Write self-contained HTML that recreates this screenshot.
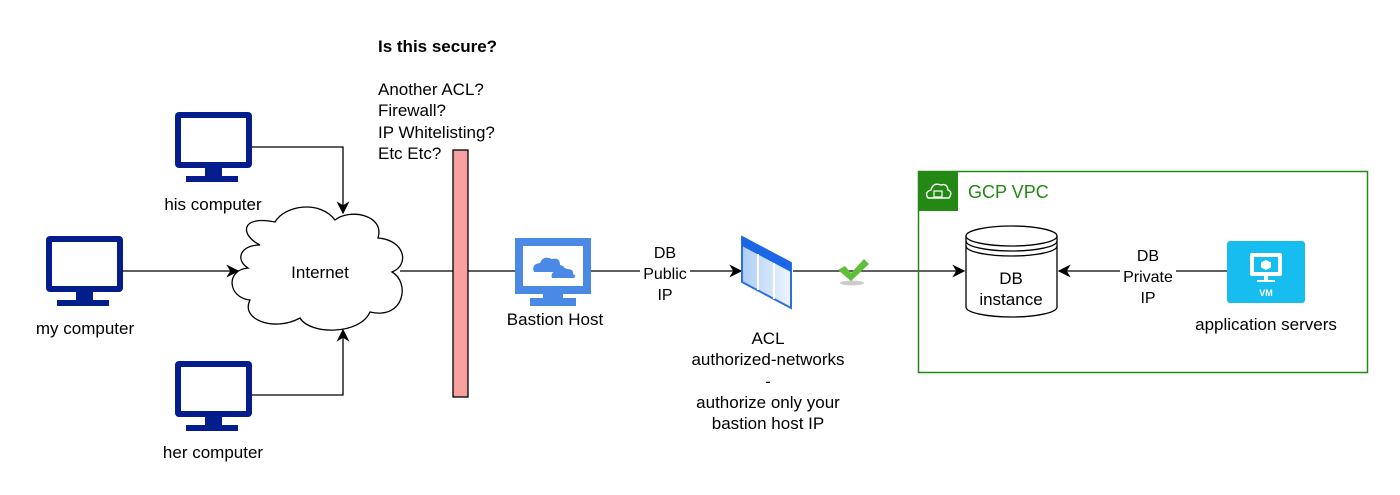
<!DOCTYPE html>
<html><head><meta charset="utf-8"><style>
html,body{margin:0;padding:0;background:#fff;}
svg{display:block;font-family:"Liberation Sans",Arial,sans-serif;}
</style></head><body>
<svg width="1400" height="495" viewBox="0 0 1400 495" xmlns="http://www.w3.org/2000/svg">
<defs>
<marker id="ar" viewBox="0 0 10 10" refX="9" refY="5" markerWidth="13" markerHeight="13" orient="auto" markerUnits="userSpaceOnUse">
<path d="M0,0 L10,5 L0,10 L3,5 z" fill="#000"/></marker>
<linearGradient id="acl" x1="0" x2="1" y1="0" y2="0"><stop offset="0" stop-color="#aecdf5"/><stop offset="1" stop-color="#eef5fd"/></linearGradient>
</defs>
<g fill="#041d8d">
<g id="mon">
<rect x="175" y="112" width="77" height="56" rx="4"/>
<rect x="181" y="118" width="65" height="44" fill="#fff"/>
<rect x="205" y="167" width="17" height="10"/>
<rect x="186" y="176" width="52" height="6"/>
</g>
<use href="#mon" x="-129" y="124"/>
<use href="#mon" x="0" y="249"/>
</g>
<text x="213" y="210" font-size="17" text-anchor="middle">his computer</text>
<text x="85" y="334" font-size="17" text-anchor="middle">my computer</text>
<text x="213" y="458" font-size="17" text-anchor="middle">her computer</text>
<g stroke="#000" stroke-width="1.3" fill="none">
<polyline points="252,147 343,147 343,213" marker-end="url(#ar)"/>
<polyline points="252,395 343,395 343,330" marker-end="url(#ar)"/>
<line x1="122" y1="271" x2="238" y2="271" marker-end="url(#ar)"/>
<line x1="400" y1="271" x2="515" y2="271"/>
<line x1="590" y1="271" x2="741" y2="271" marker-end="url(#ar)"/>
<line x1="793" y1="271" x2="964" y2="271" marker-end="url(#ar)"/>
<line x1="1227" y1="271" x2="1059" y2="271" marker-end="url(#ar)"/>
</g>
<path d="M260,245 C240,235 240,215 275,222 C285,205 320,200 335,220 C350,208 385,215 378,238 C405,240 410,265 392,272 C410,282 405,320 370,312 C360,335 310,335 300,318 C275,332 240,320 250,300 C228,298 225,270 248,268 C235,260 240,245 260,245 Z" fill="#fff" stroke="#000" stroke-width="1.3"/>
<text x="320" y="278" font-size="17" text-anchor="middle">Internet</text>
<rect x="453" y="150" width="15" height="247" fill="#f8a0a0" stroke="#000" stroke-width="1.3"/>
<text font-size="17" x="378"><tspan y="52" font-weight="bold">Is this secure?</tspan>
<tspan x="378" y="95">Another ACL?</tspan><tspan x="378" y="116">Firewall?</tspan><tspan x="378" y="138">IP Whitelisting?</tspan><tspan x="378" y="159">Etc Etc?</tspan></text>
<rect x="515" y="238" width="76" height="56" fill="#4a8ae6"/>
<rect x="523" y="246" width="60" height="40" fill="#fff"/>
<rect x="543" y="293" width="20" height="6" fill="#4a8ae6"/>
<rect x="530" y="298" width="46" height="8" fill="#4a8ae6"/>
<path d="M534,272 q-3,-8 6,-9 q3,-8 12,-4 q8,-2 8,6 q6,1 4,7 z" fill="#4a8ae6"/>
<path d="M552,278 q-2,-6 5,-7 q3,-6 10,-2 q7,0 6,5 q4,2 1,4 z" fill="#4a8ae6"/>
<text x="555" y="325" font-size="17" text-anchor="middle">Bastion Host</text>
<rect x="640" y="242" width="50" height="60" fill="#fff"/>
<text font-size="16" text-anchor="middle"><tspan x="665" y="258">DB</tspan><tspan x="665" y="279">Public</tspan><tspan x="665" y="300">IP</tspan></text>
<path d="M742,237 L791,263 L791,308 L742,282 Z" fill="url(#acl)" stroke="#2f6fe0" stroke-width="2"/>
<path d="M742,236 L791,262 L791,272 L742,246 Z" fill="#1a66e6"/>
<line x1="758" y1="254" x2="758" y2="290" stroke="#fff" stroke-width="2"/>
<line x1="774" y1="263" x2="774" y2="299" stroke="#fff" stroke-width="2"/>
<text font-size="17" text-anchor="middle"><tspan x="768" y="344">ACL</tspan><tspan x="768" y="365">authorized-networks</tspan><tspan x="768" y="387">-</tspan><tspan x="768" y="408">authorize only your</tspan><tspan x="768" y="429">bastion host IP</tspan></text>
<ellipse cx="852" cy="283" rx="12" ry="2.5" fill="#ccc"/>
<path d="M838,270 L845,266 L851,273 L864,259 L869,264 L851,281 Z" fill="#5fbf3a"/>
<rect x="918.5" y="171.5" width="449" height="201" fill="none" stroke="#248814" stroke-width="1.5"/>
<rect x="918" y="171" width="40" height="40" fill="#248814"/>
<path d="M928,198 q-4,-6 3,-8 q2,-8 10,-5 q6,-2 7,5 q5,2 1,8 z" fill="none" stroke="#fff" stroke-width="1.4"/>
<rect x="934" y="191" width="8" height="6" fill="none" stroke="#fff" stroke-width="1.2"/>
<text x="968" y="198" font-size="18" fill="#248814">GCP VPC</text>
<path d="M966,236 L966,307 A45.5,10 0 0 0 1057,307 L1057,236" fill="#fff" stroke="#000" stroke-width="1.3"/>
<ellipse cx="1011.5" cy="236" rx="45.5" ry="10" fill="#fff" stroke="#000" stroke-width="1.3"/>
<path d="M966,241 A45.5,10 0 0 0 1057,241 M966,246 A45.5,10 0 0 0 1057,246" fill="none" stroke="#000" stroke-width="1.3"/>
<text font-size="17" text-anchor="middle"><tspan x="1011" y="284">DB</tspan><tspan x="1011" y="305">instance</tspan></text>
<rect x="1120" y="245" width="56" height="56" fill="#fff"/>
<text font-size="16" text-anchor="middle"><tspan x="1148" y="261">DB</tspan><tspan x="1148" y="282">Private</tspan><tspan x="1148" y="303">IP</tspan></text>
<rect x="1227" y="241" width="78" height="62" rx="3" fill="#18bdf0"/>
<rect x="1250" y="253" width="32" height="23" rx="2" fill="#fff"/>
<rect x="1254" y="257" width="24" height="15" fill="#18bdf0"/>
<path d="M1266,260 l5,2.5 v5 l-5,2.5 l-5,-2.5 v-5 z" fill="#fff"/>
<rect x="1264" y="276" width="4" height="4" fill="#fff"/>
<rect x="1257" y="280" width="18" height="2" fill="#fff"/>
<text x="1266" y="296" font-size="9" fill="#fff" text-anchor="middle" font-weight="bold">VM</text>
<text x="1266" y="330" font-size="17" text-anchor="middle">application servers</text>
</svg>
</body></html>
